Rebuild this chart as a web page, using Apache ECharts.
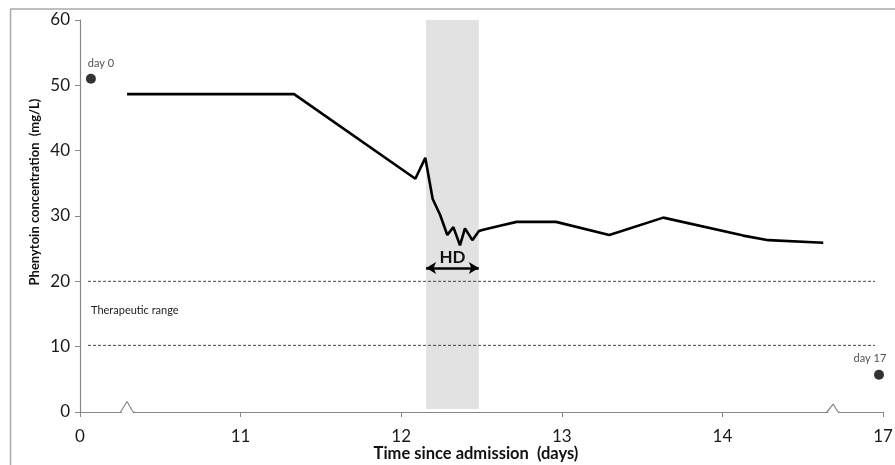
<!DOCTYPE html>
<html>
<head>
<meta charset="utf-8">
<script src="https://cdn.jsdelivr.net/npm/echarts@6/dist/echarts.min.js"></script>
<style>html,body{margin:0;padding:0;background:#fff}#c{width:895px;height:465px}</style>
</head>
<body>
<div id="c"></div>
<script>
// Broken x axis: evenly spaced positions 0..5 carry these day labels
var tickLabels = ['0', '11', '12', '13', '14', '17'];

// Main concentration trace (x in axis positions, y in mg/L)
var tracePos = [0.293, 1.333, 2.088, 2.150, 2.196, 2.242, 2.287, 2.325, 2.366, 2.397, 2.443, 2.484, 2.511, 2.615, 2.719, 2.964, 3.296, 3.632, 4.130, 4.286, 4.628];
var traceConc = [48.65, 48.65, 35.7, 38.9, 32.6, 30.2, 27.1, 28.3, 25.5, 28.1, 26.3, 27.7, 27.9, 28.5, 29.1, 29.1, 27.1, 29.75, 27.0, 26.3, 25.9];

// Single measurements
var dotPos = [0.068, 4.975];
var dotConc = [51.0, 5.7];
var dotLabels = ['day 0', 'day 17'];

// Therapeutic range bounds (mg/L) and their drawn extent
var rangeBounds = [20.0, 10.2];
var rangeExtent = [0.05, 4.95];

// Hemodialysis window (axis positions)
var hdWindow = [2.155, 2.483];
var hdArrowConc = 22.05;

// Axis break marks
var breakMarks = [[0.262, 0.293, 0.330, 1.6], [4.660, 4.690, 4.720, 1.2]];

var chart = echarts.init(document.getElementById('c'));
var font = 'Lato, "Open Sans", sans-serif';

var series = [];

// HD band + arrow
series.push({
  type: 'line', data: [], silent: true,
  markArea: {
    silent: true,
    itemStyle: { color: '#e2e2e2' },
    data: [[{ coord: [hdWindow[0], 0.45] }, { coord: [hdWindow[1], 60.3] }]]
  },
  markLine: {
    silent: true,
    symbol: ['arrow', 'arrow'],
    symbolSize: [9, 10],
    lineStyle: { color: '#000', width: 2.5, type: 'solid' },
    label: { show: true, position: 'middle', formatter: 'HD', fontFamily: font, fontWeight: 'bold', fontSize: 17, color: '#111', distance: 2 },
    data: [[{ coord: [hdWindow[0], hdArrowConc] }, { coord: [hdWindow[1], hdArrowConc] }]]
  },
  z: 1
});

// Therapeutic range dashed lines
rangeBounds.forEach(function (v) {
  series.push({
    type: 'line', symbol: 'none', silent: true,
    data: [[rangeExtent[0], v], [rangeExtent[1], v]],
    lineStyle: { color: '#444', width: 1, type: [3, 2] },
    z: 2
  });
});

// Break marks
breakMarks.forEach(function (b) {
  series.push({
    type: 'line', symbol: 'none', silent: true,
    data: [[b[0], 0], [b[2], 0]],
    lineStyle: { color: '#fff', width: 3 }, z: 3
  });
  series.push({
    type: 'line', symbol: 'none', silent: true,
    data: [[b[0] - 0.01, 0], [b[0], 0], [b[1], b[3]], [b[2], 0], [b[2] + 0.01, 0]],
    lineStyle: { color: '#888', width: 1.2 }, z: 4
  });
});

// Main trace
series.push({
  type: 'line', symbol: 'none',
  data: tracePos.map(function (x, i) { return [x, traceConc[i]]; }),
  lineStyle: { color: '#000', width: 2.6 },
  z: 5
});

// Single dots
series.push({
  type: 'scatter', symbolSize: 10,
  itemStyle: { color: '#000' },
  data: dotPos.map(function (x, i) {
    return {
      value: [x, dotConc[i]],
      label: {
        show: true, position: 'top', formatter: dotLabels[i],
        offset: i === 0 ? [10, 0] : [-9, -1],
        fontFamily: font, fontSize: 11, color: '#222'
      }
    };
  }),
  z: 6
});

chart.setOption({
  animation: false,
  backgroundColor: '#fff',
  grid: { left: 80, right: 12, top: 20, bottom: 53, containLabel: false, outerBoundsMode: 'none' },
  xAxis: {
    type: 'value', min: 0, max: 5, interval: 1,
    axisLine: { lineStyle: { color: '#888', width: 1.2 } },
    axisTick: { show: true, length: 5, lineStyle: { color: '#888' } },
    axisLabel: { formatter: function (v) { return tickLabels[Math.round(v)]; }, margin: 16, fontFamily: font, fontSize: 17, color: '#1a1a1a' },
    splitLine: { show: false }
  },
  yAxis: {
    type: 'value', min: 0, max: 60, interval: 10,
    axisLine: { show: true, lineStyle: { color: '#888', width: 1.2 } },
    axisTick: { show: true, length: 5, lineStyle: { color: '#888' } },
    axisLabel: { margin: 10, fontFamily: font, fontSize: 17, color: '#1a1a1a' },
    splitLine: { show: false }
  },
  graphic: [
    { type: 'line', shape: { x1: 10, y1: 9, x2: 895, y2: 9 }, style: { stroke: '#aaa', lineWidth: 1.5 }, silent: true },
    { type: 'line', shape: { x1: 10.5, y1: 9, x2: 10.5, y2: 465 }, style: { stroke: '#aaa', lineWidth: 1.5 }, silent: true },
    { type: 'text', x: 35, y: 192, rotation: Math.PI / 2, silent: true,
      style: { text: 'Phenytoin concentration  (mg/L)', font: 'bold 13px ' + font, fill: '#111', textAlign: 'center', textVerticalAlign: 'middle' } },
    { type: 'text', x: 476, y: 454, silent: true,
      style: { text: 'Time since admission  (days)', font: 'bold 16.5px ' + font, fill: '#111', textAlign: 'center', textVerticalAlign: 'middle' } },
    { type: 'text', left: 91, top: 305, style: { text: 'Therapeutic range', font: '11px ' + font, fill: '#222' }, silent: true }
  ],
  series: series
});
</script>
</body>
</html>
